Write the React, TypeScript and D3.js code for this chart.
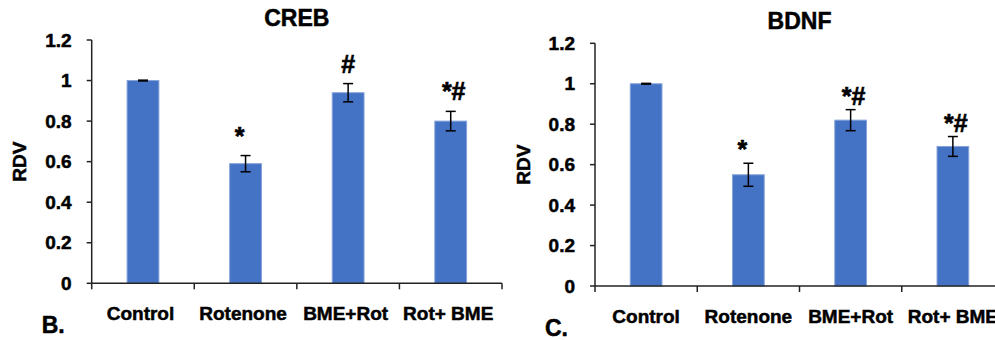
import React from "react";
import * as d3 from "d3";

const categories = ["Control", "Rotenone", "BME+Rot", "Rot+ BME"];
const yTicks = [0, 0.2, 0.4, 0.6, 0.8, 1, 1.2];
const yTickLabels = ["0", "0.2", "0.4", "0.6", "0.8", "1", "1.2"];

const crebValues = [1.0, 0.59, 0.94, 0.8];
const crebErrors = [0.002, 0.04, 0.045, 0.048];
const crebMarks = ["", "*", "#", "*#"];

const bdnfValues = [1.0, 0.55, 0.82, 0.69];
const bdnfErrors = [0.002, 0.057, 0.052, 0.049];
const bdnfMarks = ["", "*", "*#", "*#"];

const FONT = "'Liberation Sans', Arial, Helvetica, sans-serif";
const BAR = "#4472C4";

type PanelProps = {
  title: string;
  letter: string;
  values: number[];
  errors: number[];
  marks: string[];
  x0: number;
  x1: number;
  yTop: number;
  yBottom: number;
  markGap: number;
  labelDx: number;
};

function Panel(p: PanelProps) {
  const x = d3.scaleBand<string>().domain(categories).range([p.x0, p.x1]).padding(0);
  const y = d3.scaleLinear().domain([0, 1.2]).range([p.yBottom, p.yTop]);
  const bw = x.bandwidth() * 0.31;
  const cx = (c: string) => (x(c) as number) + x.bandwidth() / 2;
  const boundaries = categories.map((c) => x(c) as number).concat([p.x1]);
  return (
    <g fontFamily={FONT} fontWeight="bold" fill="#000">
      <g stroke="#000" strokeWidth={0.5}>
        <text x={(p.x0 + p.x1) / 2} y={p.yTop - 14} textAnchor="middle" fontSize={23}>
          {p.title}
        </text>
        <text
          transform={`translate(${p.x0 - 72},${(p.yTop + p.yBottom) / 2}) rotate(-90)`}
          textAnchor="middle"
          dy="0.35em"
          fontSize={19}
        >
          RDV
        </text>
      </g>
      {categories.map((c, i) => {
        const v = p.values[i];
        const e = p.errors[i];
        const bx = cx(c) - bw / 2;
        return (
          <g key={c}>
            <rect
              x={bx}
              y={y(v)}
              width={bw}
              height={y(0) - y(v)}
              fill={BAR}
              stroke="#86a3da"
              strokeWidth={1}
            />
            <line x1={cx(c)} x2={cx(c)} y1={y(v + e)} y2={y(v - e)} stroke="#000" strokeWidth={1.5} />
            <line x1={cx(c) - 5} x2={cx(c) + 5} y1={y(v + e)} y2={y(v + e)} stroke="#000" strokeWidth={1.5} />
            <line x1={cx(c) - 5} x2={cx(c) + 5} y1={y(v - e)} y2={y(v - e)} stroke="#000" strokeWidth={1.5} />
            {p.marks[i] && (
              <text
                x={cx(c) + (p.marks[i] === "*" ? -6 : p.marks[i] === "*#" ? 3 : 0)}
                y={y(v + e) - p.markGap}
                textAnchor="middle"
                fontSize={25}
                stroke="#000"
                strokeWidth={0.6}
              >
                {p.marks[i]}
              </text>
            )}
            <text
              x={cx(c) + p.labelDx}
              y={p.yBottom + 37}
              textAnchor="middle"
              fontSize={19}
              stroke="#000"
              strokeWidth={0.5}
            >
              {c}
            </text>
          </g>
        );
      })}
      {/* axes */}
      <line x1={p.x0} x2={p.x0} y1={p.yTop} y2={p.yBottom} stroke="#222" strokeWidth={1.5} />
      <line x1={p.x0} x2={p.x1} y1={p.yBottom} y2={p.yBottom} stroke="#222" strokeWidth={1.5} />
      {yTicks.map((t, i) => (
        <g key={t}>
          <line x1={p.x0 - 5} x2={p.x0} y1={y(t)} y2={y(t)} stroke="#222" strokeWidth={1.5} />
          <text
            x={p.x0 - 20}
            y={y(t)}
            dy="0.35em"
            textAnchor="end"
            fontSize={19}
            stroke="#000"
            strokeWidth={0.5}
          >
            {yTickLabels[i]}
          </text>
        </g>
      ))}
      {boundaries.map((bx, i) => (
        <line key={i} x1={bx} x2={bx} y1={p.yBottom} y2={p.yBottom + 6} stroke="#222" strokeWidth={1.5} />
      ))}
      <text x={p.x0 - 50} y={p.yBottom + 50} fontSize={23} stroke="#000" strokeWidth={0.5}>
        {p.letter}
      </text>
    </g>
  );
}

export default function App() {
  return (
    <svg
      width={995}
      height={340}
      style={{ position: "absolute", left: 0, top: 0, background: "#fff" }}
    >
      <rect width={995} height={340} fill="#fff" />
      <Panel
        title="CREB"
        letter="B."
        values={crebValues}
        errors={crebErrors}
        marks={crebMarks}
        x0={91.7}
        x1={502}
        yTop={40}
        yBottom={283.3}
        markGap={11}
        labelDx={-2.5}
      />
      <Panel
        title="BDNF"
        letter="C."
        values={bdnfValues}
        errors={bdnfErrors}
        marks={bdnfMarks}
        x0={595}
        x1={1004}
        yTop={43.3}
        yBottom={286}
        markGap={5}
        labelDx={0}
      />
    </svg>
  );
}
